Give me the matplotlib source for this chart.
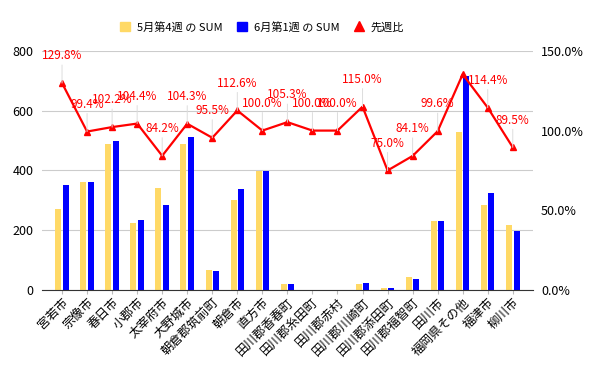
import numpy as np
import matplotlib.pyplot as plt
from matplotlib.patches import Patch
from matplotlib.lines import Line2D

plt.rcParams['font.family'] = ['Noto Sans CJK JP', 'DejaVu Sans']

cities = ["宮若市", "宗像市", "春日市", "小郡市", "太宰府市", "大野城市", "朝倉郡筑前町",
          "朝倉市", "直方市", "田川郡香春町", "田川郡糸田町", "田川郡赤村", "田川郡川崎町",
          "田川郡添田町", "田川郡福智町", "田川市", "福岡県その他", "福津市", "柳川市"]
may_w4 = [272, 362, 488, 225, 340, 490, 66, 301, 397, 19, 2, 1, 20, 8, 44, 231, 530, 284, 219]
jun_w1 = [353, 360, 497, 235, 286, 511, 63, 339, 397, 20, 2, 1, 23, 6, 37, 230, 717, 325, 196]
ratio = [129.8, 99.4, 102.2, 104.4, 84.2, 104.3, 95.5, 112.6, 100.0, 105.3, 100.0, 100.0,
         115.0, 75.0, 84.1, 99.6, 135.3, 114.4, 89.5]
hidden_label = [16]

yellow = '#FFD966'
blue = '#0000FF'
red = '#FF0000'

fig = plt.figure(figsize=(6, 3.71), dpi=100)
ax = fig.add_axes([0.07, 0.218, 0.818, 0.645])
ax2 = ax.twinx()

x = np.arange(len(cities))
w = 0.24
ax.bar(x - 0.15, may_w4, w, color=yellow, zorder=2)
ax.bar(x + 0.15, jun_w1, w, color=blue, zorder=2)

ax.set_xlim(-0.8, len(cities) - 0.2)
ax.set_ylim(0, 800)
ax.set_yticks([0, 200, 400, 600, 800])
ax.grid(axis='y', color='#cccccc', linewidth=0.8, zorder=0)
ax.set_axisbelow(True)
for s in ['top', 'right', 'left']:
    ax.spines[s].set_visible(False)
ax.spines['bottom'].set_color('#333333')
ax.tick_params(axis='y', length=0, labelsize=9, pad=6)
ax.tick_params(axis='x', length=3, color='#bbbbbb', labelsize=9, pad=1)
ax.set_xticks(x)
ax.set_xticklabels(cities, rotation=45, ha='right', rotation_mode='anchor')

ax2.plot(x, ratio, color=red, linewidth=1.6, marker='^', markersize=4.5, zorder=3)
ax2.set_ylim(0, 150)
ax2.set_yticks([0, 50, 100, 150])
ax2.set_yticklabels(['0.0%', '50.0%', '100.0%', '150.0%'])
ax2.tick_params(axis='y', length=0, labelsize=9, pad=6)
for s in ax2.spines.values():
    s.set_visible(False)

# data labels with faint leader lines, as in the sheet chart
for i, r in enumerate(ratio):
    if i in hidden_label:
        continue
    ax2.annotate(f"{r:.1f}%", (i, r), xytext=(0, 15), textcoords='offset points',
                 ha='center', va='bottom', color=red, fontsize=8.5,
                 arrowprops=dict(arrowstyle='-', color='#dddddd', lw=0.7, shrinkA=0, shrinkB=0))

handles = [Patch(color=yellow), Patch(color=blue),
           Line2D([], [], color=red, marker='^', linestyle='None', markersize=7)]
labels = ["5月第4週 の SUM", "6月第1週 の SUM", "先週比"]
fig.legend(handles, labels, loc='center', bbox_to_anchor=(0.437, 0.927), ncol=3,
           frameon=False, fontsize=8, handlelength=0.9, handleheight=0.9,
           columnspacing=1.3, handletextpad=0.6)

fig.savefig('out.png', dpi=100)
